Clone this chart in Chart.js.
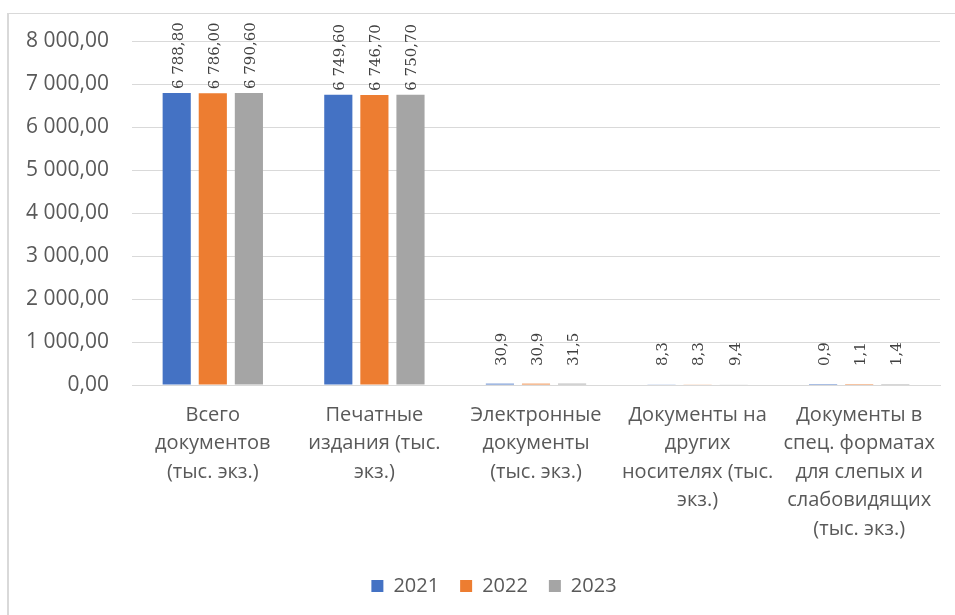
<!DOCTYPE html>
<html>
<head>
<meta charset="utf-8">
<script src="https://cdn.jsdelivr.net/npm/chart.js@4/dist/chart.umd.min.js"></script>
<style>
  html, body { margin: 0; padding: 0; background: #ffffff; }
  #wrap { position: relative; width: 955px; height: 615px; }
  #frame { position: absolute; left: 7px; top: 13px; right: 0; bottom: 0;
           border-left: 2px solid #d9d9d9; border-top: 1px solid #d9d9d9; pointer-events: none; }
</style>
</head>
<body>
<div id="wrap">
  <canvas id="c" width="955" height="615"></canvas>
  <div id="frame"></div>
</div>
<script>
const categories = [
  ["Всего", "документов", "(тыс. экз.)"],
  ["Печатные", "издания (тыс.", "экз.)"],
  ["Электронные", "документы", "(тыс. экз.)"],
  ["Документы на", "других", "носителях (тыс.", "экз.)"],
  ["Документы в", "спец. форматах", "для слепых и", "слабовидящих", "(тыс. экз.)"]
];
const seriesNames = ["2021", "2022", "2023"];
const values2021 = [6788.8, 6749.6, 30.9, 8.3, 0.9];
const values2022 = [6786.0, 6746.7, 30.9, 8.3, 1.1];
const values2023 = [6790.6, 6750.7, 31.5, 9.4, 1.4];
const yTicks = [0, 1000, 2000, 3000, 4000, 5000, 6000, 7000, 8000];

const colors = ["#4472C4", "#ED7D31", "#A5A5A5"];

function fmt(v, d) {
  const parts = Math.abs(v).toFixed(d).split(".");
  const intPart = parts[0].replace(/\B(?=(\d{3})+(?!\d))/g, " ");
  return (v < 0 ? "-" : "") + intPart + (d > 0 ? "," + parts[1] : "");
}

const labelPlugin = {
  id: "barLabels",
  afterDatasetsDraw(chart) {
    const ctx = chart.ctx;
    const bottom = chart.chartArea.bottom;
    ctx.save();
    ctx.font = "15px 'DejaVu Serif'";
    ctx.fillStyle = "#404040";
    ctx.textAlign = "left";
    ctx.textBaseline = "middle";
    chart.data.datasets.forEach((ds, di) => {
      const meta = chart.getDatasetMeta(di);
      meta.data.forEach((bar, i) => {
        const v = ds.data[i];
        const txt = v >= 1000 ? fmt(v, 2) : fmt(v, 1);
        const yStart = Math.min(bar.y - 4, bottom - 19);
        ctx.save();
        ctx.translate(bar.x + 2, yStart);
        ctx.rotate(-Math.PI / 2);
        ctx.fillText(txt, 0, 0);
        ctx.restore();
      });
    });
    ctx.restore();
  }
};

const bg = {
  id: "bg",
  beforeDraw(chart) {
    const ctx = chart.ctx;
    ctx.save();
    ctx.fillStyle = "#ffffff";
    ctx.fillRect(0, 0, chart.width, chart.height);
    ctx.restore();
  }
};

const legendShift = {
  id: "legendShift",
  afterLayout(chart) {
    if (chart.legend) {
      chart.legend.left += 24;
      chart.legend.right += 24;
    }
  }
};

new Chart(document.getElementById("c"), {
  type: "bar",
  data: {
    labels: categories,
    datasets: [values2021, values2022, values2023].map((d, i) => ({
      label: seriesNames[i],
      data: d,
      backgroundColor: colors[i],
      borderWidth: 0,
      categoryPercentage: 0.67,
      barPercentage: 0.78
    }))
  },
  options: {
    responsive: false,
    animation: false,
    devicePixelRatio: 1,
    layout: { padding: { top: 41, right: 15, bottom: 9, left: 0 } },
    plugins: {
      tooltip: { enabled: false },
      legend: {
        position: "bottom",
        labels: {
          boxWidth: 12,
          boxHeight: 12,
          padding: 21,
          color: "#595959",
          font: { family: "'Open Sans'", size: 20 }
        }
      }
    },
    scales: {
      x: {
        grid: { display: false },
        border: { display: true, color: "#d9d9d9" },
        ticks: {
          color: "#595959",
          padding: 8,
          maxRotation: 0,
          autoSkip: false,
          font: { family: "'Open Sans'", size: 20, lineHeight: 1.42 }
        },
        afterFit(scale) { scale.height = 170; }
      },
      y: {
        min: 0,
        max: 8000,
        afterBuildTicks(scale) { scale.ticks = yTicks.map(v => ({ value: v })); },
        grid: { color: "#d9d9d9", lineWidth: 1, drawTicks: false },
        border: { display: false },
        ticks: {
          color: "#595959",
          padding: 23,
          font: { family: "'Open Sans'", size: 21 },
          callback: (v) => fmt(v, 2)
        },
        afterFit(scale) { scale.width = 132; }
      }
    }
  },
  plugins: [bg, labelPlugin, legendShift]
});
</script>
</body>
</html>
